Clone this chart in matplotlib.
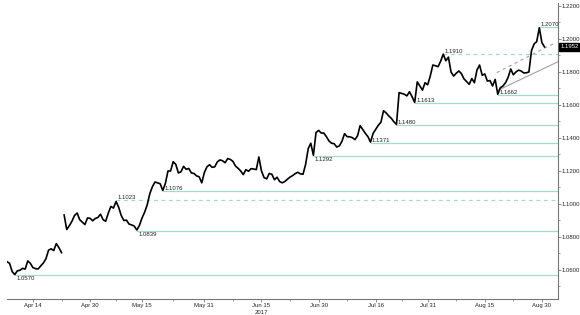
import numpy as np
import pandas as pd
import matplotlib
matplotlib.use('Agg')
import matplotlib.pyplot as plt
import matplotlib.transforms as mtransforms

# EUR/USD, two readings per business day starting 2017-04-07
apr_a = [1.0650, 1.0640, 1.0590, 1.0572, 1.0595, 1.0598, 1.0610, 1.0605, 1.0655, 1.0640, 1.0614,
         1.0608, 1.0606, 1.0625, 1.0642, 1.0668, 1.0720, 1.0728, 1.0718, 1.0760, 1.0735, 1.0705]
apr_b = [1.0933, 1.0845, 1.0868, 1.0895, 1.0930, 1.0945, 1.0905, 1.0890, 1.0875, 1.0915]
may = [1.0913, 1.0898, 1.0912, 1.0918, 1.0938, 1.0905, 1.0895, 1.0944, 1.0985, 1.0975, 1.1015,
       1.0980, 1.0930, 1.0900, 1.0902, 1.0878, 1.0873, 1.0866, 1.0842, 1.0870, 1.0915, 1.0950,
       1.0995, 1.1062, 1.1105, 1.1133, 1.1128, 1.1122, 1.1082, 1.1125, 1.1200, 1.1200, 1.1256,
       1.1240, 1.1188, 1.1195, 1.1228, 1.1210, 1.1215, 1.1188, 1.1185, 1.1170, 1.1165, 1.1128,
       1.1190, 1.1225]
jun = [1.1238, 1.1222, 1.1225, 1.1255, 1.1267, 1.1262, 1.1250, 1.1275, 1.1270, 1.1258, 1.1230,
       1.1216, 1.1200, 1.1178, 1.1208, 1.1198, 1.1214, 1.1212, 1.1208, 1.1285, 1.1200, 1.1160,
       1.1152, 1.1185, 1.1180, 1.1147, 1.1162, 1.1136, 1.1128, 1.1136, 1.1150, 1.1163, 1.1172,
       1.1184, 1.1192, 1.1182, 1.1180, 1.1240, 1.1335, 1.1368, 1.1295, 1.1432, 1.1446, 1.1430]
jul = [1.1430, 1.1408, 1.1382, 1.1368, 1.1365, 1.1345, 1.1352, 1.1380, 1.1426, 1.1408, 1.1407,
       1.1402, 1.1390, 1.1413, 1.1475, 1.1452, 1.1428, 1.1408, 1.1375, 1.1428, 1.1452, 1.1477,
       1.1495, 1.1565, 1.1552, 1.1534, 1.1519, 1.1498, 1.1482, 1.1675, 1.1670, 1.1665, 1.1655,
       1.1680, 1.1650, 1.1615, 1.1740, 1.1715, 1.1690, 1.1735, 1.1722, 1.1775]
aug = [1.1842, 1.1838, 1.1832, 1.1865, 1.1908, 1.1868, 1.1890, 1.1800, 1.1775, 1.1792, 1.1806,
       1.1790, 1.1758, 1.1742, 1.1725, 1.1760, 1.1735, 1.1812, 1.1842, 1.1780, 1.1788, 1.1745,
       1.1748, 1.1715, 1.1755, 1.1665, 1.1705, 1.1715, 1.1735, 1.1768, 1.1818, 1.1783, 1.1800,
       1.1811, 1.1806, 1.1794, 1.1795, 1.1800, 1.1930, 1.1970, 1.1984, 1.2068, 1.1978, 1.1952]

# support / resistance levels: value, sample where it was set, dashed?, label below line?
levels = [1.0570, 1.0839, 1.1023, 1.1076, 1.1292, 1.1371, 1.1480, 1.1613, 1.1662, 1.1910, 1.2070]
level_from = [3, 50, 42, 60, 118, 140, 150, 157, 189, 168, 205]
level_dash = [False, False, True, False, False, False, False, False, False, True, False]
level_below = [True, True, False, False, True, False, False, False, False, False, False]

# channel lines (business days from 2017-04-07, price)
trend_solid = ([94.6, 106.1], [1.1690, 1.1862])
trend_dash = ([94.3, 105.5], [1.1796, 1.1976])

tick_dates = ['2017-04-14', '2017-04-30', '2017-05-15', '2017-05-31', '2017-06-15',
              '2017-06-30', '2017-07-16', '2017-07-31', '2017-08-15', '2017-08-30']
tick_labels = ['Apr 14', 'Apr 30', 'May 15', 'May 31', 'Jun 15',
               'Jun 30', 'Jul 16', 'Jul 31', 'Aug 15', 'Aug 30']

series = np.array(apr_a + apr_b + may + jun + jul + aug)
t = np.arange(len(series)) * 0.5
n_a = len(apr_a)

bdays = pd.bdate_range('2017-04-07', '2017-09-05')
tick_pos = bdays.searchsorted(pd.to_datetime(tick_dates)).astype(float)

plt.rcParams['font.family'] = ['Liberation Sans', 'DejaVu Sans']
fs = 4.3
txt = '#222222'
fig = plt.figure(figsize=(5.8, 3.15), dpi=100)
ax = fig.add_axes([7 / 580, 1 - 299 / 315, 551 / 580, 296 / 315])

lc = '#a3dcc5'
for v, k, d, below in zip(levels, level_from, level_dash, level_below):
    ax.plot([t[k], 106.1], [v, v], color=lc, lw=0.9, ls=(0, (3, 3)) if d else '-', zorder=1)
    ax.annotate('%.4f' % v, (t[k], v), xytext=(1, -2.6 if below else 1.9),
                textcoords='offset points', fontsize=fs, color=txt,
                ha='left', va='center', zorder=4)

ax.plot(*trend_solid, color='#a0a0a0', lw=0.8, zorder=2)
ax.plot(*trend_dash, color='#a0a0a0', lw=0.8, ls=(0, (3, 3)), zorder=2)

ax.plot(t[:n_a], series[:n_a], color='black', lw=1.2, zorder=3)
ax.plot(t[n_a:], series[n_a:], color='black', lw=1.2, zorder=3)

ax.set_xlim(0, 106.1)
ax.set_ylim(1.0424, 1.2218)

for s in ['top', 'left']:
    ax.spines[s].set_visible(False)
for s in ['bottom', 'right']:
    ax.spines[s].set_color('#777777')
    ax.spines[s].set_linewidth(0.8)

ax.yaxis.tick_right()
ax.set_yticks(np.arange(1.06, 1.2201, 0.02))
ax.set_yticks(np.arange(1.05, 1.2201, 0.01), minor=True)
ax.set_yticklabels(['%.4f' % v for v in np.arange(1.06, 1.2201, 0.02)])
ax.set_xticks(tick_pos)
ax.set_xticks((tick_pos[:-1] + tick_pos[1:]) / 2, minor=True)
ax.set_xticklabels(tick_labels)
ax.tick_params(axis='both', which='major', labelsize=fs, length=2, width=0.6,
               color='#777777', labelcolor=txt, pad=0.8)
ax.tick_params(axis='both', which='minor', length=1.5, width=0.5, color='#777777')

ax.text(tick_pos[4], -0.045, '2017', transform=ax.get_xaxis_transform(),
        fontsize=fs, color=txt, ha='center', va='center')

trans = mtransforms.blended_transform_factory(ax.transAxes, ax.transData)
ax.text(1.004, series[-1], '%.4f' % series[-1], transform=trans, fontsize=fs,
        color='white', ha='left', va='center',
        bbox=dict(boxstyle='square,pad=0.2', fc='black', ec='black'))

fig.savefig('out.png', dpi=100)
